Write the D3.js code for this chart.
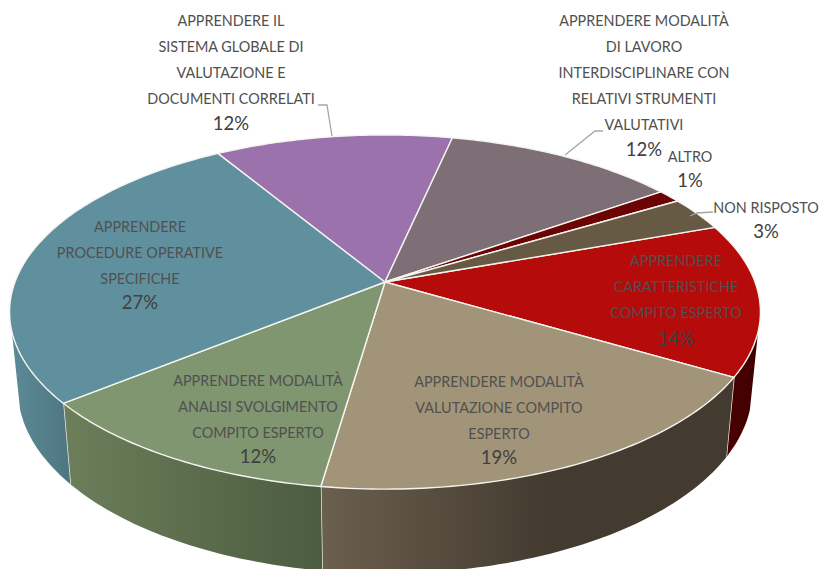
<!DOCTYPE html>
<html>
<head>
<meta charset="utf-8">
<style>
  html, body { margin: 0; padding: 0; background: #fff; }
  svg { display: block; }
  text { font-family: Lato, "Open Sans", sans-serif; text-anchor: middle; }
  .lab { font-size: 14.4px; fill: #505050; }
  .pct { font-size: 18.5px; fill: #404040; }
</style>
</head>
<body>
<div id="chartId"></div>
<script src="https://d3js.org/d3.v7.min.js"></script>
<script>
// Slices clockwise, first one is the red slice
const categories = [
  ['APPRENDERE', 'CARATTERISTICHE', 'COMPITO ESPERTO'],
  ['APPRENDERE MODALITÀ', 'VALUTAZIONE COMPITO', 'ESPERTO'],
  ['APPRENDERE MODALITÀ', 'ANALISI SVOLGIMENTO', 'COMPITO ESPERTO'],
  ['APPRENDERE', 'PROCEDURE OPERATIVE', 'SPECIFICHE'],
  ['APPRENDERE IL', 'SISTEMA GLOBALE DI', 'VALUTAZIONE E', 'DOCUMENTI CORRELATI'],
  ['APPRENDERE MODALITÀ', 'DI LAVORO', 'INTERDISCIPLINARE CON', 'RELATIVI STRUMENTI', 'VALUTATIVI'],
  ['ALTRO'],
  ['NON RISPOSTO']
];
// the labels show them rounded
const shares = [13.9, 18.85, 11.85, 27.2, 12.05, 11.85, 1.2, 3.1];
const topColors = ['#b50b0b', '#a29478', '#7f9670', '#60909e', '#9b72ab', '#7e6f76', '#6d0404', '#675a45'];
const wallLeft = ['#4a0000', '#6b5f4e', '#6c7e5a', '#5c8a97', '#9b72ab', '#7e6f76', '#6d0404', '#675a45'];
const wallRight = ['#400000', '#433b30', '#4c5c40', '#4e7681', '#9b72ab', '#7e6f76', '#6d0404', '#675a45'];

// label anchors: centre x, first line y, line step, y of the percent
const labelPos = [
  [676, 261, 26, 339], [499, 382, 26, 458], [258, 381, 26, 457], [140, 227, 26, 303],
  [231, 21, 26, 124], [644, 21, 26, 150], [690, 157, 26, 181], [766, 208, 26, 232]
];
const leaders = [
  { i: 4, pts: [[318, 105], [327, 105], [332, 136]] },
  { i: 5, pts: [[603, 131], [595, 131], [565, 155]] },
  { i: 7, pts: [[713, 212], [697, 213], [690, 216]] }
];

const width = 819, height = 569;
const cx = 385, cy = 282;          // apex of the slices on screen
const rx = 370, ry = 172, k = 0.1695; // perspective of the disc
const lowerX = 0.978, lowerY = 1.04, depth = 76;
const wallFrom = 106 * Math.PI / 180, wallTo = 254 * Math.PI / 180;

const svg = d3.select('#chartId').append('svg').attr('width', width).attr('height', height);
const defs = svg.append('defs');

// angle clockwise from top -> screen, z=1 is the lower rim
function project(a, z) {
  const px = Math.sin(a), py = -Math.cos(a);
  const w = 1 - k * py;
  return [cx + (z ? lowerX : 1) * rx * px / w, cy + (z ? lowerY : 1) * ry * py / w + (z ? depth : 0)];
}

const pie = d3.pie().sort(null)
  .startAngle(70.4 * Math.PI / 180)
  .endAngle((70.4 + 360) * Math.PI / 180);
const arcs = pie(shares);
const line = d3.line();

function rim(a0, a1, z) {
  const n = Math.max(2, Math.ceil((a1 - a0) * 60));
  return d3.range(n + 1).map(j => project(a0 + (a1 - a0) * j / n, z));
}

// walls, only the part of the rim facing the viewer
arcs.forEach((d, i) => {
  const a0 = Math.max(d.startAngle, wallFrom), a1 = Math.min(d.endAngle, wallTo);
  if (a1 <= a0) return;
  const g = defs.append('linearGradient').attr('id', 'wall' + i);
  g.append('stop').attr('offset', 0).attr('stop-color', wallLeft[i]);
  g.append('stop').attr('offset', i === 1 ? 0.55 : 1).attr('stop-color', wallRight[i]);
  svg.append('path')
    .attr('d', line(rim(a0, a1, 0).concat(rim(a0, a1, 1).reverse())) + 'Z')
    .attr('fill', 'url(#wall' + i + ')');
  if (d.endAngle < wallTo) {
    svg.append('path')
      .attr('d', line([project(d.endAngle, 0), project(d.endAngle, 1)]))
      .attr('stroke', '#eef0ec').attr('stroke-width', 1.4).attr('fill', 'none');
  }
});

// top of the pie
svg.selectAll('path.slice')
  .data(arcs).enter()
  .append('path')
  .attr('class', 'slice')
  .attr('d', d => line([[cx, cy]].concat(rim(d.startAngle, d.endAngle, 0))) + 'Z')
  .attr('fill', (d, i) => topColors[i])
  .attr('stroke', '#f4f4f0')
  .attr('stroke-width', 1.4)
  .attr('stroke-linejoin', 'round');

// leader lines
leaders.forEach(l => {
  svg.append('path').attr('d', line(l.pts))
    .attr('fill', 'none').attr('stroke', '#a6a6a6').attr('stroke-width', 1.3);
});

// labels
categories.forEach((lines, i) => {
  const [x, y, step, yPct] = labelPos[i];
  lines.forEach((t, j) => {
    svg.append('text').attr('class', 'lab').attr('x', x).attr('y', y + j * step)
      .attr('dy', '.35em').text(t);
  });
  svg.append('text').attr('class', 'pct').attr('x', x).attr('y', yPct)
    .attr('dy', '.35em').text(Math.round(shares[i]) + '%');
});
</script>
</body>
</html>
